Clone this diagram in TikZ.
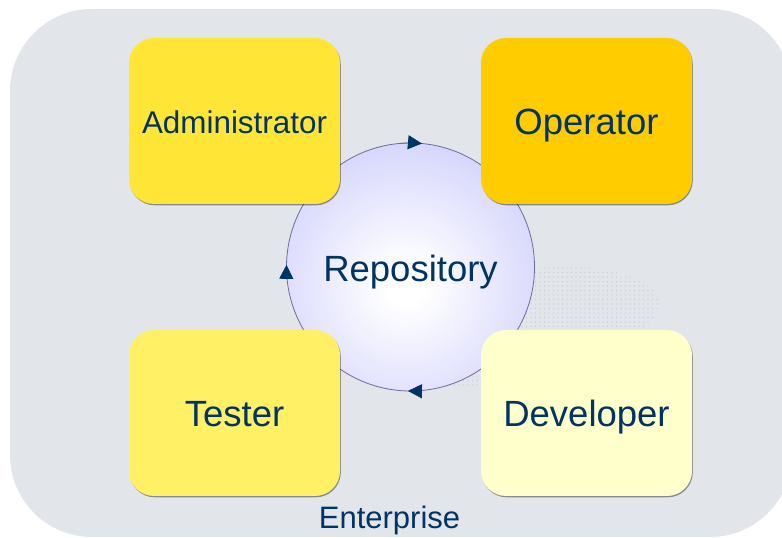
\documentclass[tikz,border=0pt]{standalone}
\usepackage{fontspec}
\setmainfont{Liberation Sans}
\usetikzlibrary{arrows.meta,shadows,patterns.meta}
\definecolor{bgc}{HTML}{E2E6EB}
\definecolor{navy}{HTML}{003366}
\definecolor{admc}{HTML}{FFE535}
\definecolor{opc}{HTML}{FFCC00}
\definecolor{tstc}{HTML}{FFF066}
\definecolor{devc}{HTML}{FFFFCC}
\definecolor{ringc}{HTML}{6B6B9E}
\definecolor{repoedge}{HTML}{C8C8FC}
\definecolor{dotc}{HTML}{C3C7CE}
\pgfdeclareradialshading{repoglow}{\pgfpoint{0bp}{0bp}}{color(0bp)=(white); color(3bp)=(white); color(29bp)=(repoedge); color(50bp)=(repoedge)}
\begin{document}
\begin{tikzpicture}[x=1pt,y=1pt,
  rolebox/.style={rectangle, rounded corners=25pt, minimum width=211pt, minimum height=166pt, inner sep=0pt, outer sep=0pt, text=navy,
    general shadow={shadow xshift=0.8pt, shadow yshift=-1.3pt, fill=black, opacity=0.4}},
  bigtxt/.style={font=\fontsize{36.5}{40}\selectfont, text height=27.5pt, text depth=0pt},
  midtxt/.style={font=\fontsize{31.4}{36}\selectfont, text height=24.5pt, text depth=0pt},
  cyc/.style={draw=ringc, line width=0.8pt, -{Triangle[length=14pt,width=14pt,color=navy]}}
]
\useasboundingbox (0,0) rectangle (782,538);
\clip (0,0) rectangle (782,538);
\fill[bgc, rounded corners=82pt] (10,1) rectangle (792,529);
\fill[pattern={Dots[distance=4.5pt,radius=0.55pt]}, pattern color=dotc, rotate around={10:(500,210)}] (500,210) ellipse[x radius=160, y radius=55];
\node[circle, minimum size=248pt, inner sep=0pt, outer sep=0pt, draw=ringc, line width=0.8pt, text=navy, bigtxt, text height=29.4pt,
  path picture={\shade[shading=repoglow] ([xshift=-5pt,yshift=-18pt]path picture bounding box.center) circle[radius=160pt];}] (repo) at (410.5,271) {Repository};
\draw[cyc] (repo.95) arc[start angle=95, end angle=84.7, radius=124pt];
\draw[cyc] (repo.185) arc[start angle=185, end angle=179, radius=124pt];
\draw[cyc] (repo.275) arc[start angle=275, end angle=268.8, radius=124pt];
\node[rolebox, fill=admc, midtxt] (adm) at (234.5,417) {Administrator};
\node[rolebox, fill=opc, bigtxt] (op) at (586.5,417) {Operator};
\node[rolebox, fill=tstc, bigtxt] (tst) at (234.5,125) {Tester};
\node[rolebox, fill=devc, bigtxt] (dev) at (586.5,125) {Developer};
\node[text=navy, font=\fontsize{31}{36}\selectfont, anchor=base] (ent) at (389.5,9) {Enterprise};
\end{tikzpicture}
\end{document}
